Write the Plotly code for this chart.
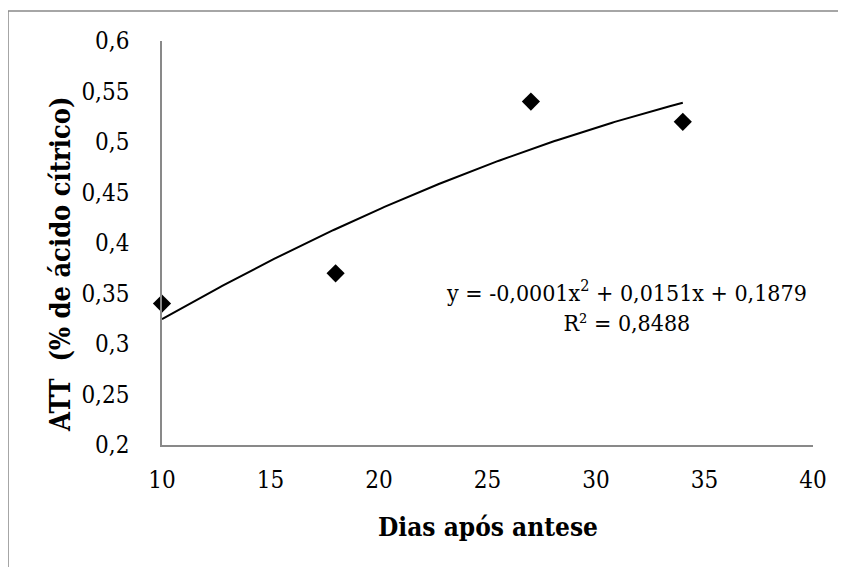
import numpy as np
import plotly.graph_objects as go

dias = [10, 18, 27, 34]
att = [0.34, 0.37, 0.54, 0.52]
y_ticks = [0.2, 0.25, 0.3, 0.35, 0.4, 0.45, 0.5, 0.55, 0.6]
y_ticktext = ["0,2", "0,25", "0,3", "0,35", "0,4", "0,45", "0,5", "0,55", "0,6"]
x_ticks = [10, 15, 20, 25, 30, 35, 40]
x_title = "Dias após antese"
y_title = "ATT\u00a0\u00a0(% de ácido cítrico)"
equation = "y = -0,0001x<sup>2</sup> + 0,0151x + 0,1879<br>R² = 0,8488"

coef = np.polyfit(dias, att, 2)
xs = np.linspace(min(dias), max(dias), 200)
ys = np.polyval(coef, xs)

# page body has an 8px margin: the figure starts at (8, 8) in the window
OFF = 8
W, H = 846 - OFF, 567 - OFF
L, R, T, B = 162 - OFF, 33, 41 - OFF, 122
pw, ph = W - L - R, H - T - B

fig = go.Figure()
fig.add_trace(go.Scatter(x=xs, y=ys, mode="lines", line=dict(color="black", width=2),
                         hoverinfo="skip", showlegend=False, cliponaxis=False))
fig.add_trace(go.Scatter(x=dias, y=att, mode="markers",
                         marker=dict(symbol="diamond", size=14, color="black"),
                         showlegend=False, cliponaxis=False))

font = "DejaVu Serif Condensed, DejaVu Serif, serif"
axcol = "#898989"
fig.update_layout(
    width=W, height=H,
    margin=dict(l=L, r=R, t=T, b=B),
    paper_bgcolor="white", plot_bgcolor="white",
    font=dict(family=font, size=24, color="black"),
    xaxis=dict(range=[10, 40], tickvals=x_ticks, showgrid=False, zeroline=False,
               showline=True, linecolor=axcol, linewidth=1.5, ticks="",
               ticklabelstandoff=12, tickfont=dict(size=24, family=font)),
    yaxis=dict(range=[0.2, 0.6], tickvals=y_ticks, ticktext=y_ticktext, showgrid=False,
               zeroline=False, showline=True, linecolor=axcol, linewidth=1.5, ticks="",
               ticklabelstandoff=26, tickfont=dict(size=24, family=font)),
)

def px(xp):
    return (xp - OFF - L) / pw

def py(yp):
    return (H - B - (yp - OFF)) / ph

fig.add_annotation(text="<b>" + x_title + "</b>", x=px(488), y=py(527), xref="paper", yref="paper",
                   showarrow=False, font=dict(size=26, family=font), xanchor="center", yanchor="middle")
fig.add_annotation(text="<b>" + y_title + "</b>", x=px(60), y=py(264), xref="paper", yref="paper",
                   showarrow=False, textangle=-90, font=dict(size=27, family=font),
                   xanchor="center", yanchor="middle")
fig.add_annotation(text=equation, x=px(626), y=py(306), xref="paper", yref="paper",
                   showarrow=False, font=dict(size=23, family=font), align="center",
                   xanchor="center", yanchor="middle")

fig.add_shape(type="line", xref="paper", yref="paper", x0=px(8), x1=px(850), y0=py(11), y1=py(11),
              line=dict(color=axcol, width=1.5))
fig.add_shape(type="line", xref="paper", yref="paper", x0=px(8), x1=px(8), y0=py(11), y1=py(570),
              line=dict(color=axcol, width=1.5))

fig.write_html("out.html")
